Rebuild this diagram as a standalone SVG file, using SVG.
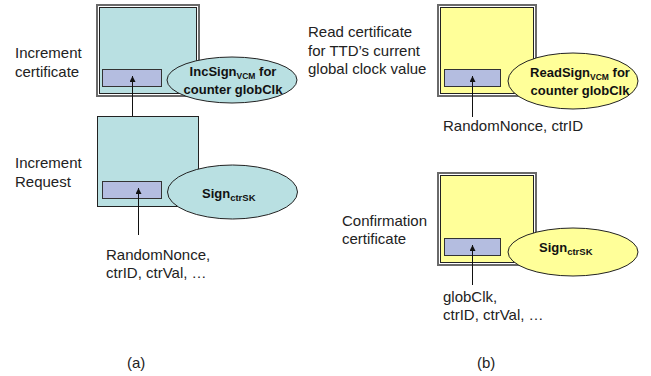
<svg xmlns="http://www.w3.org/2000/svg" width="651" height="376" viewBox="0 0 651 376">
<defs>
<marker id="ah" viewBox="0 0 10 10" refX="10" refY="5" markerWidth="6" markerHeight="6" markerUnits="userSpaceOnUse" orient="auto">
<path d="M0,0 L10,5 L0,10 z" fill="#111"/>
</marker>
<style>
.lbl{font-family:"Liberation Sans",Arial,sans-serif;font-size:15px;fill:#222}
.bold{font-family:"Liberation Sans",Arial,sans-serif;font-size:13px;font-weight:bold;fill:#111}
.sub{font-size:8.5px}
.sub2{font-size:9.5px}
.outer{fill:none;stroke:#6a6a6a;stroke-width:2}
.inner{stroke:#222;stroke-width:1}
.teal{fill:#b9e0e2}
.yel{fill:#ffff99}
.field{fill:#b4bde0;stroke:#333;stroke-width:1}
.ell{stroke:#222;stroke-width:1}
.conn{stroke:#111;stroke-width:1;fill:none;marker-end:url(#ah)}
</style>
</defs>
<rect width="651" height="376" fill="#fff"/>

<g id="incCert">
<rect class="outer" x="97" y="5" width="102" height="91"/>
<rect class="inner teal" x="99.5" y="7.5" width="97" height="86"/>
<rect class="field" x="102.5" y="69.5" width="59" height="17"/>
<text class="lbl" x="15" y="58">Increment</text>
<text class="lbl" x="15" y="77">certificate</text>
</g>
<g id="incSign">
<ellipse class="ell teal" cx="232" cy="80" rx="65" ry="23"/>
<text class="bold" x="233" y="76" text-anchor="middle">IncSign<tspan class="sub" dy="3">VCM</tspan><tspan dy="-3"> for</tspan></text>
<text class="bold" x="233" y="94" text-anchor="middle">counter globClk</text>
</g>

<g id="incReq">
<rect class="inner teal" x="97.5" y="116.5" width="101" height="90"/>
<rect class="field" x="102.5" y="181.5" width="59" height="17"/>
<text class="lbl" x="15" y="168">Increment</text>
<text class="lbl" x="15" y="187">Request</text>
</g>
<g id="signA">
<ellipse class="ell teal" cx="232.5" cy="192" rx="65" ry="27"/>
<text class="bold" x="202" y="198">Sign<tspan class="sub2" dy="3">ctrSK</tspan></text>
</g>
<g id="inputA">
<text class="lbl" x="106" y="260">RandomNonce,</text>
<text class="lbl" x="106" y="278">ctrID, ctrVal, …</text>
</g>

<g id="readCert">
<rect class="outer" x="438" y="5" width="98" height="91"/>
<rect class="inner yel" x="440.5" y="7.5" width="93" height="86"/>
<rect class="field" x="444.5" y="69.5" width="56" height="17"/>
<text class="lbl" x="308" y="37">Read certificate</text>
<text class="lbl" x="308" y="56">for TTD’s current</text>
<text class="lbl" x="308" y="74">global clock value</text>
</g>
<g id="readSign">
<ellipse class="ell yel" cx="573" cy="81" rx="65" ry="28"/>
<text class="bold" x="580" y="77" text-anchor="middle">ReadSign<tspan class="sub" dy="3">VCM</tspan><tspan dy="-3"> for</tspan></text>
<text class="bold" x="580" y="95" text-anchor="middle">counter globClk</text>
</g>
<g id="inputB1">
<text class="lbl" x="443" y="131">RandomNonce, ctrID</text>
</g>

<g id="confCert">
<rect class="outer" x="438" y="173" width="98" height="92"/>
<rect class="inner yel" x="440.5" y="175.5" width="93" height="87"/>
<rect class="field" x="444.5" y="238.5" width="56" height="17"/>
<text class="lbl" x="342" y="226">Confirmation</text>
<text class="lbl" x="342" y="244">certificate</text>
</g>
<g id="signB">
<ellipse class="ell yel" cx="573" cy="252" rx="65" ry="24"/>
<text class="bold" x="539" y="252">Sign<tspan class="sub2" dy="3">ctrSK</tspan></text>
</g>
<g id="inputB2">
<text class="lbl" x="443" y="302">globClk,</text>
<text class="lbl" x="443" y="320">ctrID, ctrVal, …</text>
</g>

<g id="connectors">
<line class="conn" x1="132.5" y1="116" x2="132.5" y2="76"/>
<line class="conn" x1="138.5" y1="235" x2="138.5" y2="188"/>
<line class="conn" x1="472.5" y1="117" x2="472.5" y2="76"/>
<line class="conn" x1="472.5" y1="285" x2="472.5" y2="245"/>
</g>

<text class="lbl" x="127" y="368">(a)</text>
<text class="lbl" x="477" y="368">(b)</text>
</svg>
